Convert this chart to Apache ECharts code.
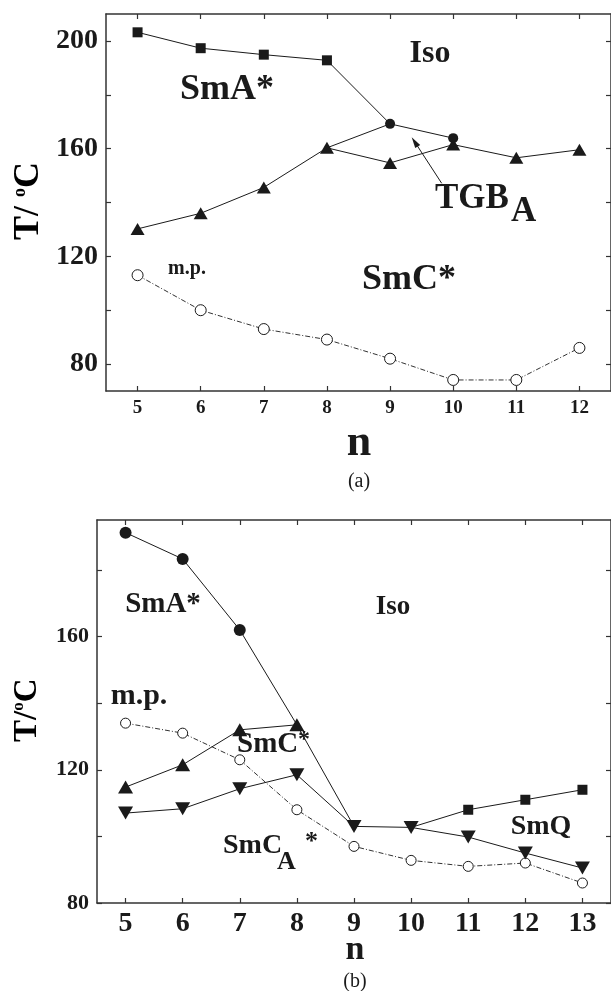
<!DOCTYPE html>
<html>
<head>
<meta charset="utf-8">
<script src="https://cdn.jsdelivr.net/npm/echarts@6/dist/echarts.min.js"></script>
<style>
  html, body { margin: 0; padding: 0; background: #fff; }
  #chart { width: 611px; height: 991px; }
</style>
</head>
<body>
<div id="chart"></div>
<script>
// ---------- Panel (a): chain length n = 5..12 ----------
const nA = [5, 6, 7, 8, 9, 10, 11, 12];
// clearing line: Iso/SmA* (squares) then Iso/TGB_A (circles)
const isoA = [203.2, 197.3, 194.9, 192.8, 169.2, 163.9, null, null];
const isoSymA = ['rect', 'rect', 'rect', 'rect', 'circle', 'circle', 'none', 'none'];
// upper limit of SmC* (triangles)
const smcA = [130.2, 136.0, 145.6, 160.3, 154.7, 161.5, 156.6, 159.6];
// SmA*/TGB_A boundary
const tgbA = [null, null, null, 160.3, 169.2, null, null, null];
// melting points
const mpA = [113.0, 100.0, 93.0, 89.1, 82.0, 74.1, 74.1, 86.0];
const yTicksA = [80, 100, 120, 140, 160, 180, 200];
const yLabelsA = [80, 120, 160, 200];

// ---------- Panel (b): chain length n = 5..13 ----------
const nB = [5, 6, 7, 8, 9, 10, 11, 12, 13];
// clearing line Iso/SmA* (circles)
const smaB = [191.2, 183.3, 162.0, 133.5, 103.0, null, null, null, null];
const smaSymB = ['circle', 'circle', 'circle', 'none', 'none', 'none', 'none', 'none', 'none'];
// SmA*/SmC* (up triangles)
const smcB = [114.8, 121.5, 132.0, 133.5, null, null, null, null, null];
// SmC*/SmC_A* and Iso/SmC_A* (down triangles)
const smcaB = [107.0, 108.3, 114.3, 118.5, 103.0, 102.7, 99.8, 95.0, 90.5];
// Iso/SmQ (squares)
const smqB = [null, null, null, null, null, 102.7, 108.0, 111.0, 114.0];
const smqSymB = ['none', 'none', 'none', 'none', 'none', 'none', 'rect', 'rect', 'rect'];
// melting points
const mpB = [134.0, 131.0, 123.0, 108.0, 97.0, 92.8, 91.0, 92.0, 86.0];
const yTicksB = [80, 100, 120, 140, 160, 180];
const yLabelsB = [80, 120, 160];

const FONT = "'Liberation Serif', 'Times New Roman', serif";
const INK = '#1a1a1a';
const AXIS = '#333';

function pairs(xs, ys, syms) {
  const out = [];
  xs.forEach((x, i) => {
    if (ys[i] == null) return;
    const item = { value: [x, ys[i]] };
    if (syms) item.symbol = syms[i];
    out.push(item);
  });
  return out;
}

function xAxisPair(grid, ns, min, max, fontSize, margin) {
  const line = { show: true, lineStyle: { color: AXIS, width: 1.5 } };
  return [
    {
      type: 'value', gridIndex: grid, min: min, max: max, position: 'bottom',
      axisLine: line, splitLine: { show: false },
      axisTick: { customValues: ns, inside: true, length: 5, lineStyle: { color: AXIS, width: 1.2 } },
      axisLabel: { customValues: ns, margin: margin, color: INK, fontFamily: FONT, fontWeight: 'bold', fontSize: fontSize }
    },
    {
      type: 'value', gridIndex: grid, min: min, max: max, position: 'top',
      axisLine: line, splitLine: { show: false },
      axisTick: { customValues: ns, inside: true, length: 5, lineStyle: { color: AXIS, width: 1.2 } },
      axisLabel: { show: false }
    }
  ];
}

function yAxisPair(grid, min, max, ticks, labels, fontSize) {
  const line = { show: true, lineStyle: { color: AXIS, width: 1.5 } };
  return [
    {
      type: 'value', gridIndex: grid, min: min, max: max, position: 'left',
      axisLine: line, splitLine: { show: false },
      axisTick: { customValues: ticks, inside: true, length: 5, lineStyle: { color: AXIS, width: 1.2 } },
      axisLabel: { customValues: labels, margin: 8, color: INK, fontFamily: FONT, fontWeight: 'bold', fontSize: fontSize }
    },
    {
      type: 'value', gridIndex: grid, min: min, max: max, position: 'right',
      axisLine: line, splitLine: { show: false },
      axisTick: { customValues: ticks, inside: true, length: 5, lineStyle: { color: AXIS, width: 1.2 } },
      axisLabel: { show: false }
    }
  ];
}

function lineSeries(xi, yi, data, symbol, size, extra) {
  return Object.assign({
    type: 'line', xAxisIndex: xi, yAxisIndex: yi, data: data,
    symbol: symbol, symbolSize: size, showSymbol: true,
    lineStyle: { color: INK, width: 1 },
    itemStyle: { color: INK, borderWidth: 0, opacity: 1 },
    emphasis: { disabled: true },
    animation: false, z: 3
  }, extra || {});
}

const openCircle = {
  itemStyle: { color: '#fff', borderColor: INK, borderWidth: 1 },
  lineStyle: { color: '#333', width: 1, type: [5, 2, 1, 2] },
  z: 2
};

function label(text, x, y, size, align, extra) {
  return {
    type: 'text', x: x, y: y, z: 10,
    style: Object.assign({
      text: text, fill: INK, font: 'bold ' + size + 'px ' + FONT,
      textAlign: align || 'center', textVerticalAlign: 'middle'
    }, extra || {})
  };
}

function yTitle(x, y, size, gap) {
  return {
    type: 'text', x: x, y: y, rotation: Math.PI / 2, z: 10,
    style: {
      text: '{t|T/' + gap + '}{o|o}{t|C}',
      textAlign: 'left', textVerticalAlign: 'middle',
      rich: {
        t: { fontFamily: FONT, fontWeight: 'bold', fontSize: size, color: INK, lineHeight: size },
        o: { fontFamily: FONT, fontWeight: 'bold', fontSize: Math.round(size * 0.5), color: INK, verticalAlign: 'top', lineHeight: size }
      }
    }
  };
}

const chart = echarts.init(document.getElementById('chart'), null, { renderer: 'canvas' });

chart.setOption({
  backgroundColor: '#fff',
  animation: false,
  grid: [
    { left: 106, right: -2, top: 14, bottom: 600 },
    { left: 97, right: -2, top: 520, bottom: 88 }
  ],
  xAxis: [].concat(
    xAxisPair(0, nA, 4.5, 12.5, 19, 8),
    xAxisPair(1, nB, 4.5, 13.5, 28, 7)
  ),
  yAxis: [].concat(
    yAxisPair(0, 70, 210, yTicksA, yLabelsA, 28),
    yAxisPair(1, 80, 195, yTicksB, yLabelsB, 22)
  ),
  series: [
    // panel (a)
    lineSeries(0, 0, pairs(nA, mpA), 'circle', 11, openCircle),
    lineSeries(0, 0, pairs(nA, tgbA), 'none', 0),
    lineSeries(0, 0, pairs(nA, smcA), 'triangle', [14, 12]),
    lineSeries(0, 0, pairs(nA, isoA, isoSymA), 'rect', 10),
    // panel (b)
    lineSeries(2, 2, pairs(nB, mpB), 'circle', 10, openCircle),
    lineSeries(2, 2, pairs(nB, smqB, smqSymB), 'rect', 10),
    lineSeries(2, 2, pairs(nB, smcaB), 'triangle', [15, 13], { symbolRotate: 180 }),
    lineSeries(2, 2, pairs(nB, smcB), 'triangle', [15, 13]),
    lineSeries(2, 2, pairs(nB, smaB, smaSymB), 'circle', 12)
  ],
  graphic: [
    // panel (a) annotations
    label('Iso', 430, 54, 32),
    label('SmA*', 227, 90, 36),
    label('TGB', 435, 199, 35, 'left'),
    label('A', 511, 212, 35, 'left'),
    label('m.p.', 187, 269, 20),
    label('SmC*', 409, 280, 36),
    { type: 'line', z: 9, shape: { x1: 441.7, y1: 183.3, x2: 416.5, y2: 144.6 }, style: { stroke: INK, lineWidth: 1 } },
    { type: 'polygon', z: 9, shape: { points: [[411.7, 137.3], [420.2, 144.9], [415.2, 148.1]] }, style: { fill: INK } },
    label('n', 359, 444, 44),
    { type: 'text', x: 359, y: 482, z: 10, style: { text: '(a)', fill: INK, font: '20px ' + FONT, textAlign: 'center', textVerticalAlign: 'middle' } },
    yTitle(29, 240, 36, ' '),
    // panel (b) annotations
    label('SmA*', 163, 605, 29),
    label('Iso', 393, 607, 27),
    label('m.p.', 139, 696, 30),
    label('SmC', 237, 745, 29, 'left'),
    label('*', 298, 740, 24, 'left'),
    label('SmC', 223, 846, 28, 'left'),
    label('A', 277, 862, 26, 'left'),
    label('*', 305, 842, 26, 'left'),
    label('SmQ', 541, 827, 28),
    label('n', 355, 950, 34),
    { type: 'text', x: 355, y: 982, z: 10, style: { text: '(b)', fill: INK, font: '20px ' + FONT, textAlign: 'center', textVerticalAlign: 'middle' } },
    yTitle(27, 742, 33, '')
  ]
});
</script>
</body>
</html>
